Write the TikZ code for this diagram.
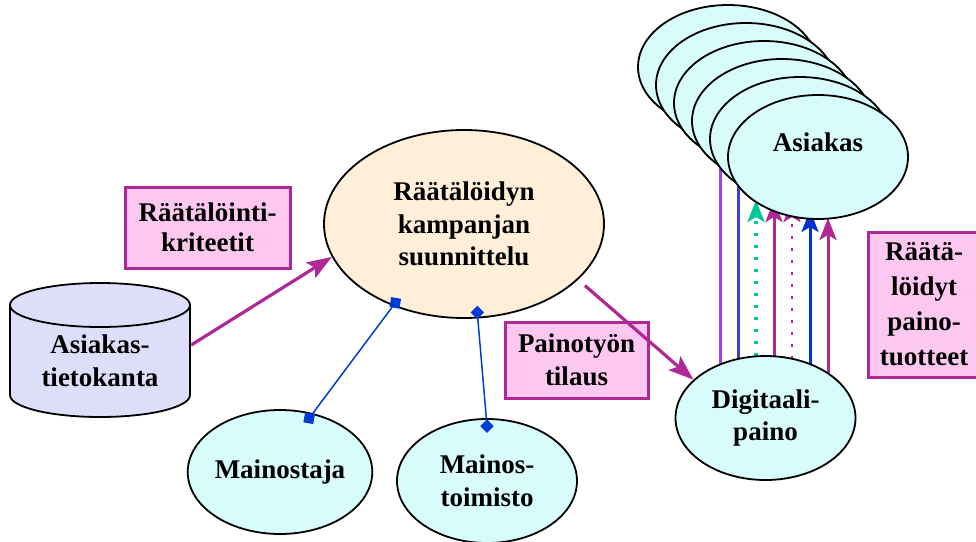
\documentclass[tikz,border=0pt]{standalone}
\usepackage{fontspec}
\setmainfont{Liberation Serif}
\usetikzlibrary{shapes.geometric,arrows.meta}
\definecolor{cyanfill}{RGB}{216,252,252}
\definecolor{peach}{RGB}{255,238,216}
\definecolor{lav}{RGB}{222,222,250}
\definecolor{pinkfill}{RGB}{252,200,240}
\definecolor{mag}{RGB}{176,40,150}
\definecolor{purp}{RGB}{160,64,240}
\definecolor{indig}{RGB}{64,64,208}
\definecolor{teal2}{RGB}{0,200,150}
\definecolor{blue2}{RGB}{0,50,210}
\definecolor{conn}{RGB}{0,60,210}
\begin{document}
\begin{tikzpicture}[x=1pt,y=-1pt,
 txt/.style={font=\fontsize{27}{32.5}\selectfont\bfseries, align=center, text=black},
 ell/.style={ellipse, draw=black, line width=1.8pt, inner sep=0pt, minimum width=180pt, minimum height=124pt, fill=cyanfill},
 lbl/.style={rectangle, draw=mag, line width=3pt, fill=pinkfill, txt, inner sep=0pt},
 marrow/.style={draw=mag, line width=3.2pt, -{Stealth[length=25pt,width=18pt,inset=5pt]}},
 vtip/.style={-{Stealth[length=22pt,width=17pt,inset=5pt]}},
 sqmark/.style={rectangle, fill=conn, minimum size=10pt, inner sep=0pt},
 dmmark/.style={rectangle, fill=conn, minimum size=9.5pt, inner sep=0pt, rotate=45},
]
\useasboundingbox (0,0) rectangle (976,541);

% vertical connectors (under the Asiakas stack)
\coordinate (v1t) at (720,150); \coordinate (v1b) at (720,364.5);
\coordinate (v2t) at (738,150); \coordinate (v2b) at (738,359);
\coordinate (v3t) at (756,200); \coordinate (v3b) at (756,356.3);
\coordinate (v4t) at (774,200); \coordinate (v4b) at (774,356.5);
\coordinate (v5t) at (792,200); \coordinate (v5b) at (792,358.8);
\coordinate (v6t) at (810,210); \coordinate (v6b) at (810,364);
\coordinate (v7t) at (828,218); \coordinate (v7b) at (828,373.4);
\draw[purp, line width=3pt] (v1b) -- (v1t);
\draw[indig, line width=3pt] (v2b) -- (v2t);
\draw[teal2, line width=3.3pt, dash pattern=on 3.3pt off 8.7pt, vtip] (v3b) -- (v3t);
\draw[mag, line width=3pt, vtip] (v4b) -- (v4t);
\draw[mag, line width=2.7pt, dash pattern=on 2.7pt off 9.3pt, vtip] (v5b) -- (v5t);
\draw[blue2, line width=3pt, vtip] (v6b) -- (v6t);
\draw[mag, line width=3pt, vtip] (v7b) -- (v7t);

% Asiakas stack
\node[ell] (as1) at (728,67) {};
\node[ell] (as2) at (746,85) {};
\node[ell] (as3) at (764,103) {};
\node[ell] (as4) at (782,121) {};
\node[ell] (as5) at (800,139) {};
\node[ell] (as6) at (818,157) {};
\node[txt] (asl) at (818,142) {Asiakas};

% campaign
\node[ell, fill=peach, minimum width=280pt, minimum height=188pt, txt] (camp) at (464,224) {Räätälöidyn\\kampanjan\\suunnittelu};

% other ellipses
\node[ell, txt] (dp) at (765.5,418) {Digitaali-\\paino};
\node[ell, txt] (mo) at (280,472) {Mainostaja};
\node[ell, txt] (mt) at (487,481) {Mainos-\\toimisto};

% database cylinder
\fill[lav] (10,305) rectangle (190,395);
\fill[lav] (100,395) ellipse [x radius=90, y radius=22];
\begin{scope}
\clip (0,395) rectangle (200,430);
\draw[line width=1.8pt] (100,395) ellipse [x radius=90, y radius=22];
\end{scope}
\draw[line width=1.8pt] (10,305) -- (10,395) (190,305) -- (190,395);
\filldraw[fill=lav, line width=1.8pt] (100,305) ellipse [x radius=90, y radius=22];
\node[txt, minimum width=182pt, minimum height=134pt, inner sep=0pt] (db) at (100,361) {Asiakas-\\tietokanta};

% label boxes
\node[lbl, minimum width=165pt, minimum height=81pt, font=\fontsize{27}{30}\selectfont\bfseries] (krit) at (207.5,227.5) {Räätälöinti-\\kriteetit};
\node[lbl, minimum width=143pt, minimum height=76pt] (tilaus) at (576.5,360) {Painotyön\\tilaus};
\node[lbl, minimum width=112pt, minimum height=145pt, font=\fontsize{27}{35}\selectfont\bfseries] (tuot) at (924,304.5) {Räätä-\\löidyt\\paino-\\tuotteet};

% magenta arrows
\draw[marrow] ([yshift=16pt]db.east) -- (camp.194.5);
\draw[marrow, shorten <=9pt] (camp.-26.8) -- (dp.152.7);

% blue connectors
\draw[conn, line width=1.5pt] ([xshift=2.5pt,yshift=3pt]camp.229) -- ([yshift=-6pt]mo.64);
\node[sqmark, rotate=-10] (m1) at ([xshift=2.5pt,yshift=3pt]camp.229) {};
\node[sqmark, rotate=-10] (m2) at ([yshift=-6pt]mo.64) {};
\draw[conn, line width=1.5pt] ([yshift=6pt]camp.278.5) -- ([yshift=-8pt]mt.90);
\node[dmmark] (m3) at ([yshift=6pt]camp.278.5) {};
\node[dmmark] (m4) at ([yshift=-8pt]mt.90) {};
\end{tikzpicture}
\end{document}
